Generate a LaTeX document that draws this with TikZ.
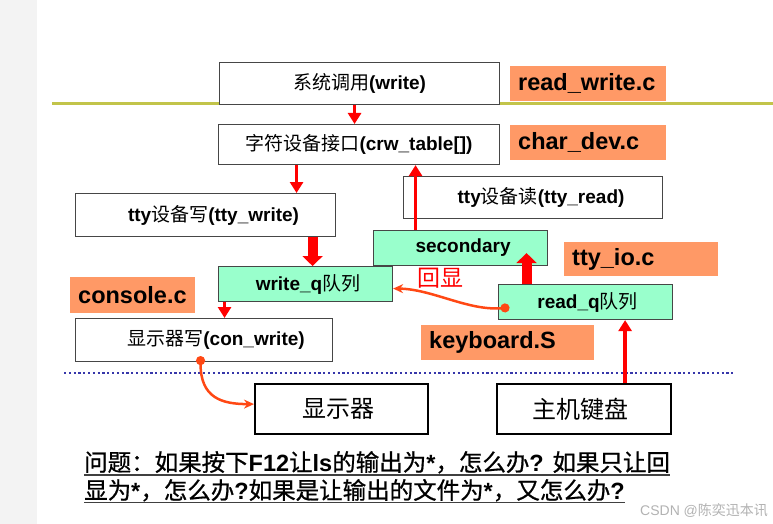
\documentclass[tikz,border=0pt]{standalone}
\usepackage{fontspec}
\setmainfont{Liberation Sans}
\newfontfamily\cjkfont{Noto Sans CJK SC}
\newfontfamily\cjkheavy[FakeBold=0.8]{Noto Sans CJK SC}
\usetikzlibrary{arrows.meta}
\definecolor{boxgreen}{RGB}{153,255,204}
\definecolor{lblorange}{RGB}{255,153,102}
\definecolor{lineolive}{RGB}{194,196,74}
\definecolor{dotblue}{RGB}{55,55,170}
\definecolor{boxline}{RGB}{70,70,70}
\definecolor{curvecolor}{RGB}{255,72,20}
\definecolor{stripgray}{RGB}{243,243,243}
\newcommand\cj[1]{{\cjkfont\mdseries #1}}
\newcommand\cjq[1]{{\cjkheavy\mdseries #1}}
\begin{document}
\begin{tikzpicture}[x=1pt,y=-1pt,
  box/.style={draw=boxline, line width=1.1pt, fill=white, inner sep=0pt, anchor=north west, font=\bfseries\fontsize{19}{22}\selectfont},
  qbox/.style={box, fill=boxgreen},
  hwbox/.style={draw=black, line width=2.2pt, fill=white, inner sep=0pt, anchor=north west, font=\fontsize{24}{28}\selectfont},
  filelbl/.style={fill=lblorange, inner xsep=8pt, inner ysep=0pt, align=left, anchor=north west, font=\bfseries\fontsize{23.5}{26}\selectfont},
  thinarr/.style={draw=red, line width=3.5pt, -{Triangle[width=13pt,length=11pt]}},
  thickarr/.style={draw=red, line width=10pt, -{Triangle[width=20pt,length=10pt]}},
  curvarr/.style={draw=curvecolor, line width=2.5pt, {Circle[length=9pt]}-{Stealth[length=10pt,width=9pt]}},
  qtext/.style={inner sep=0pt, anchor=base west, font=\bfseries\fontsize{23.5}{28}\selectfont},
  uline/.style={draw=black!75, line width=1.2pt}
]
\useasboundingbox (0,0) rectangle (773,524);
\fill[stripgray] (0,0) rectangle (37,524);
% separator lines
\coordinate (ol1) at (52,104);
\coordinate (ol2) at (773,104);
\draw[lineolive, line width=3pt] (ol1) -- (ol2);
\coordinate (dl1) at (64,373);
\coordinate (dl2) at (734,373);
\draw[dotblue, line width=2.6pt, dash pattern=on 2.2pt off 2.6pt] (dl1) -- (dl2);

% boxes
\node[box, minimum width=280pt, minimum height=42pt] (sys) at (219,62) {\cj{系统调用}(write)};
\node[box, minimum width=281pt, minimum height=40pt] (chr) at (218,124) {\cj{字符设备接口}(crw\_table[])};
\node[box, minimum width=260pt, minimum height=43pt] (ttyw) at (75,193) {\hspace*{16pt}tty\cj{设备写}(tty\_write)};
\node[box, minimum width=259pt, minimum height=42pt] (ttyr) at (403,176) {\hspace*{16pt}tty\cj{设备读}(tty\_read)};
\node[qbox, minimum width=174pt, minimum height=35pt] (sec) at (373,230) {\hspace*{5pt}secondary};
\node[qbox, minimum width=174pt, minimum height=35pt] (wq) at (218,266) {\hspace*{5pt}write\_q\cj{队列}};
\node[qbox, minimum width=174pt, minimum height=35pt] (rq) at (498,284) {\hspace*{4pt}read\_q\cj{队列}};
\node[box, minimum width=257pt, minimum height=43pt] (conw) at (75,318) {\hspace*{24pt}\cj{显示器写}(con\_write)};
\node[hwbox, minimum width=173pt, minimum height=50pt] (disp) at (254,383) {\cj{显示器}\hspace*{7pt}};
\node[hwbox, minimum width=174pt, minimum height=50pt] (kbd) at (496,383) {\cj{主机键盘}\hspace*{7pt}};

% file labels
\node[filelbl, text width=140pt, minimum height=35pt] (lrw) at (510,66) {read\_write.c};
\node[filelbl, text width=140pt, minimum height=35pt] (lcd) at (510,125) {char\_dev.c};
\node[filelbl, text width=138pt, minimum height=34pt] (ltio) at (564,242) {tty\_io.c};
\node[filelbl, text width=109pt, minimum height=36pt] (lcon) at (70,277) {console.c};
\node[filelbl, text width=157pt, minimum height=35pt] (lkb) at (421,325) {keyboard.S};

\node[text=red, inner sep=0pt, font=\fontsize{23}{26}\selectfont] (echo) at (440,278) {\cj{回显}};

% red arrows
\coordinate (a1) at ([xshift=-5pt]sys.south);
\draw[thinarr] (a1) -- (a1 |- chr.north);
\coordinate (a2) at ([xshift=-62.5pt]chr.south);
\draw[thinarr] (a2) -- (a2 |- ttyw.north);
\coordinate (a3) at ([xshift=107pt]ttyw.south);
\draw[thickarr] (a3) -- (a3 |- wq.north);
\coordinate (a4) at ([xshift=-81pt]wq.south);
\draw[thinarr] (a4) -- (a4 |- conw.north);
\coordinate (a5) at ([xshift=-45pt]sec.north);
\draw[thinarr] (a5) -- (a5 |- chr.south);
\coordinate (a6) at ([xshift=-59pt]rq.north);
\coordinate (a6e) at ([yshift=13pt]sec.south);
\draw[thickarr] (a6) -- (a6 |- a6e);
\coordinate (a7) at ([xshift=41pt]kbd.north);
\draw[thinarr] (a7) -- (a7 |- rq.south);

% orange curves
\coordinate (c1s) at ([xshift=-3.5pt,yshift=6pt]conw.south);
\coordinate (c1e) at ([yshift=5pt]disp.west);
\draw[curvarr] (c1s) .. controls +(0,42) and +(-32,0) .. (c1e);
\coordinate (c2s) at ([xshift=11.5pt,yshift=-5.5pt]rq.west);
\coordinate (c2e) at ([yshift=-4.5pt]wq.east);
\draw[curvarr] (c2s) .. controls (468,311) and (432,289) .. (c2e);

% question text
\node[qtext] (q1) at (84,471) {\cjq{问题：如果按下}F12\cjq{让}ls\cjq{的输出为}*\cjq{，怎么办}? \cjq{如果只让回}};
\node[qtext] (q2) at (84,499) {\cjq{显为}*\cjq{，怎么办}?\cjq{如果是让输出的文件为}*\cjq{，又怎么办}?};
\draw[uline] ([yshift=-4pt]q1.base west) -- ([yshift=-4pt]q1.base east);
\draw[uline] ([yshift=-3.5pt]q2.base west) -- ([yshift=-3.5pt]q2.base east);

\node[inner sep=0pt, anchor=base west, text=black!30, font=\fontsize{14}{16}\selectfont] (wm) at (640,515) {CSDN @\cj{陈奕迅本讯}};
\end{tikzpicture}
\end{document}
